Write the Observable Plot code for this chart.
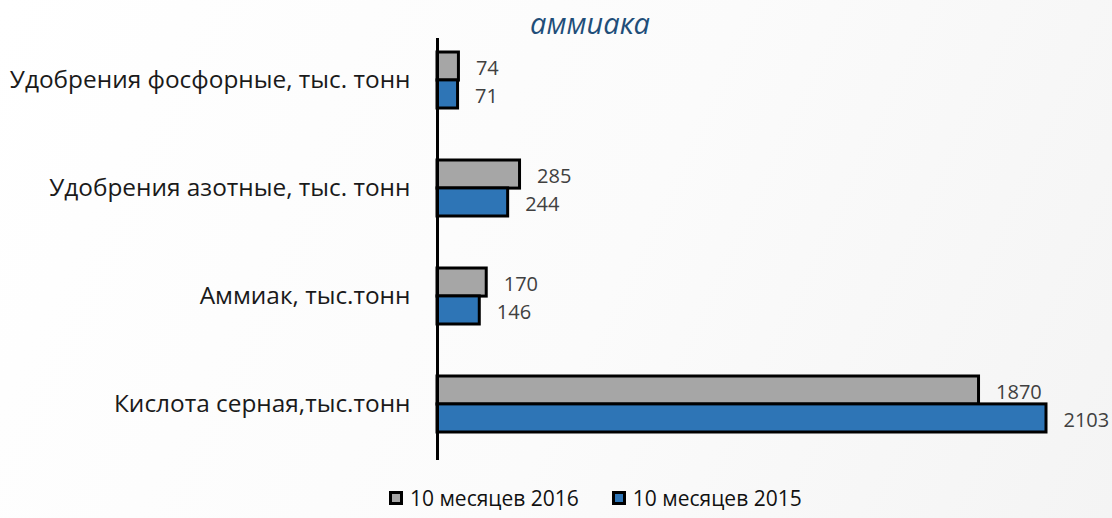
<!DOCTYPE html>
<html>
<head>
<meta charset="utf-8">
<script src="https://cdn.jsdelivr.net/npm/d3@7"></script>
<script src="https://cdn.jsdelivr.net/npm/@observablehq/plot@0.6"></script>
<style>
  html, body { margin: 0; padding: 0; }
  body { width: 1112px; height: 518px; position: relative; overflow: hidden;
         background: linear-gradient(115deg, #ffffff 0%, #fbfbfb 55%, #f4f4f4 100%);
         font-family: "Open Sans", sans-serif; }
  #title { position: absolute; left: 0; top: 3px; width: 1112px; padding-left: 68px; box-sizing: border-box;
           text-align: center; font-size: 29px; font-style: italic; color: #1f4e79; line-height: 40px; }
  #chart { position: absolute; left: 0; top: 25px; }
  #legend { position: absolute; top: 484px; left: 389px; display: flex; gap: 33px; font-size: 21px; color: #111; line-height: 28px; }
  .item { display: flex; align-items: center; }
  .sw { width: 8px; height: 8px; border: 3px solid #000; margin-right: 7px; }
</style>
</head>
<body>
<div id="title">аммиака</div>
<div id="chart"></div>
<div id="legend"></div>
<script>
const categories = ["Удобрения фосфорные, тыс. тонн", "Удобрения азотные, тыс. тонн", "Аммиак, тыс.тонн", "Кислота серная,тыс.тонн"];
const series = ["10 месяцев 2016", "10 месяцев 2015"];
const values2016 = [74, 285, 170, 1870];
const values2015 = [71, 244, 146, 2103];
const colors = ["#a6a6a6", "#2e75b6"];

const d2016 = categories.map((c, i) => ({category: c, value: values2016[i]}));
const d2015 = categories.map((c, i) => ({category: c, value: values2015[i]}));

const plot = Plot.plot({
  width: 1112,
  height: 437,
  marginLeft: 437,
  marginRight: 66,
  marginTop: 0,
  marginBottom: 4,
  style: {background: "transparent", fontFamily: "Open Sans, sans-serif", overflow: "visible"},
  x: {domain: [0, 2103], axis: null},
  y: {domain: categories, paddingInner: 0.485, paddingOuter: 0.241, label: null},
  marks: [
    Plot.axisY({tickSize: 0, tickPadding: 27, fontSize: 24.4, color: "#1a1a1a", label: null}),
    Plot.barX(d2016, {x: "value", y: "category", fill: colors[0], stroke: "#000", strokeWidth: 3, insetBottom: 27.9}),
    Plot.barX(d2015, {x: "value", y: "category", fill: colors[1], stroke: "#000", strokeWidth: 3, insetTop: 27.9}),
    Plot.text(d2016, {x: "value", y: "category", text: d => String(d.value), dx: 17, dy: -12, textAnchor: "start", fontSize: 20, fill: "#404040"}),
    Plot.text(d2015, {x: "value", y: "category", text: d => String(d.value), dx: 17, dy: 16, textAnchor: "start", fontSize: 20, fill: "#404040"}),
    Plot.ruleX([0], {stroke: "#000", strokeWidth: 3, insetTop: 13, insetBottom: -2})
  ]
});
document.getElementById("chart").appendChild(plot);

const legend = document.getElementById("legend");
series.forEach((s, i) => {
  const item = document.createElement("div");
  item.className = "item";
  const sw = document.createElement("span");
  sw.className = "sw";
  sw.style.background = colors[i];
  item.appendChild(sw);
  item.appendChild(document.createTextNode(s));
  legend.appendChild(item);
});
</script>
</body>
</html>
